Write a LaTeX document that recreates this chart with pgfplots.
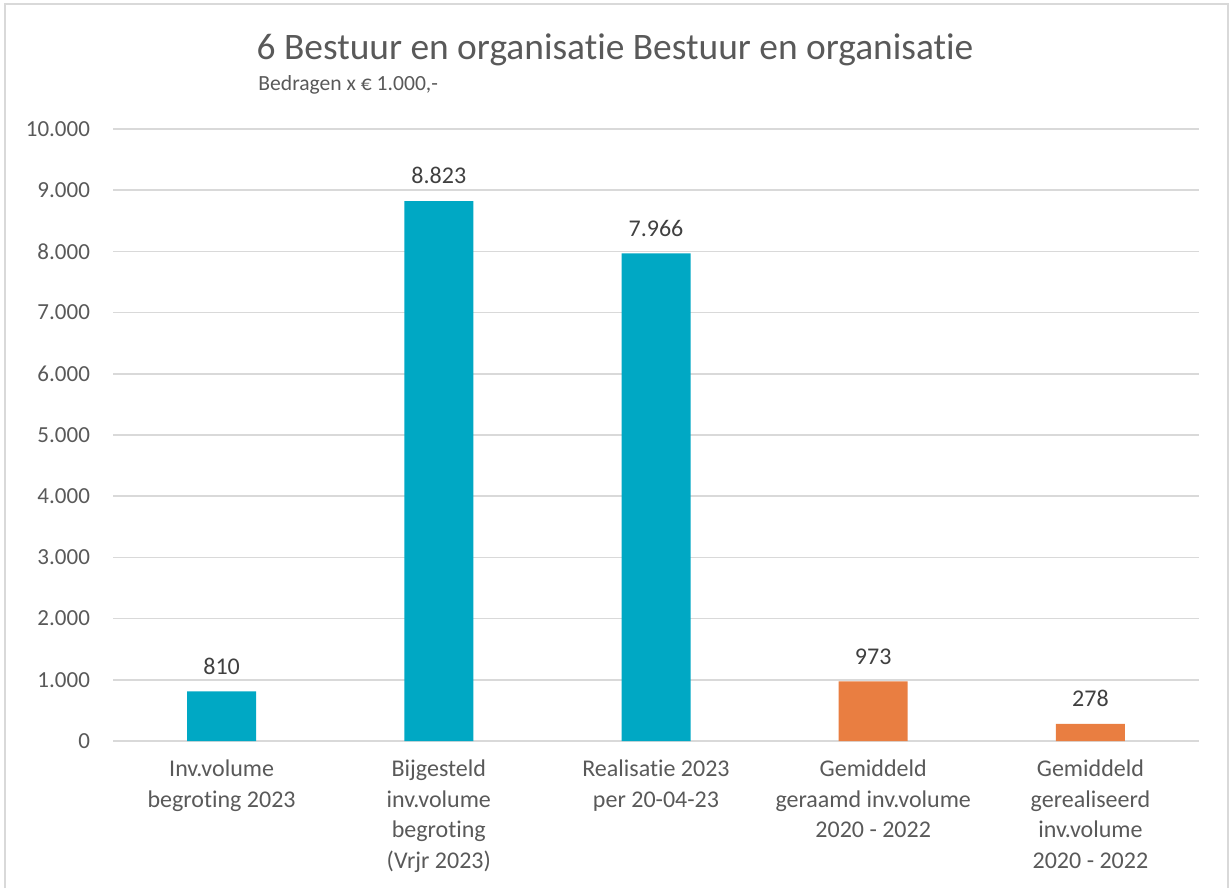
\documentclass[border=0pt]{standalone}
\usepackage{pgfplots}
\pgfplotsset{compat=1.18}
\usepackage{fontspec}
\setmainfont{Carlito}[RawFeature={-liga;-clig;-calt;-dlig}]

\definecolor{teal}{HTML}{00A8C4}
\definecolor{orng}{HTML}{E97E41}
\definecolor{txt}{HTML}{595959}
\definecolor{lbl}{HTML}{404040}
\definecolor{grd}{HTML}{D9D9D9}
\newcommand{\nl}{\kern0pt }

\begin{document}
\begin{tikzpicture}[x=0.5pt,y=0.5pt]
% frame (pixel units, y from bottom)
\useasboundingbox (0,0) rectangle (1229,888);
\draw[grd,line width=1.2pt] (5,0) -- (5,884) -- (1228,884) -- (1228,0);
\node[txt,font=\fontsize{18.7}{20}\selectfont,anchor=base] at (615,828) {6 Bestuur en organisat\nl ie Bestuur en organisat\nl ie};
\node[txt,font=\fontsize{10.8}{12}\selectfont,anchor=base west,inner sep=0pt] at (258,797) {Bedragen x € 1.000,-};
\begin{axis}[
  at={(113pt*0.5,147pt*0.5)}, anchor=south west,
  scale only axis,
  width=543pt, height=306pt,
  xmin=-0.5, xmax=4.5,
  ymin=0, ymax=10000,
  ytick={0,1000,...,10000},
  scaled y ticks=false,
  xtick={0,1,2,3,4},
  xticklabels={{Inv.volume\\begroting 2023},{Bijgesteld\\inv.volume\\begroting\\(Vrjr 2023)},{Realisat\nl ie 2023\\per 20-04-23},{Gemiddeld\\geraamd inv.volume\\2020 - 2022},{Gemiddeld\\gerealiseerd\\inv.volume\\2020 - 2022}},
  xticklabel style={align=center,font=\fontsize{12}{15.3}\selectfont,text=txt,yshift=-6pt},
  yticklabel style={font=\fontsize{11.5}{12}\selectfont,text=txt,xshift=-8pt},
  /pgf/number format/.cd, fixed, use comma, 1000 sep={.}, assume math mode=true,
  /pgfplots/.cd,
  ymajorgrids, grid style={grd,line width=0.8pt},
  axis x line*=bottom, axis y line*=left,
  x axis line style={grd,line width=0.8pt},
  y axis line style={draw=none},
  major tick length=0pt,
  ybar, bar width=34.5pt, bar shift=0pt,
  nodes near coords,
  nodes near coords style={font=\fontsize{12}{12}\selectfont,text=lbl,yshift=5pt},
  clip=false,
]
\addplot[fill=teal,draw=none] coordinates {(0,810) (1,8823) (2,7966)};
\addplot[fill=orng,draw=none] coordinates {(3,973) (4,278)};
\end{axis}
\end{tikzpicture}
\end{document}
